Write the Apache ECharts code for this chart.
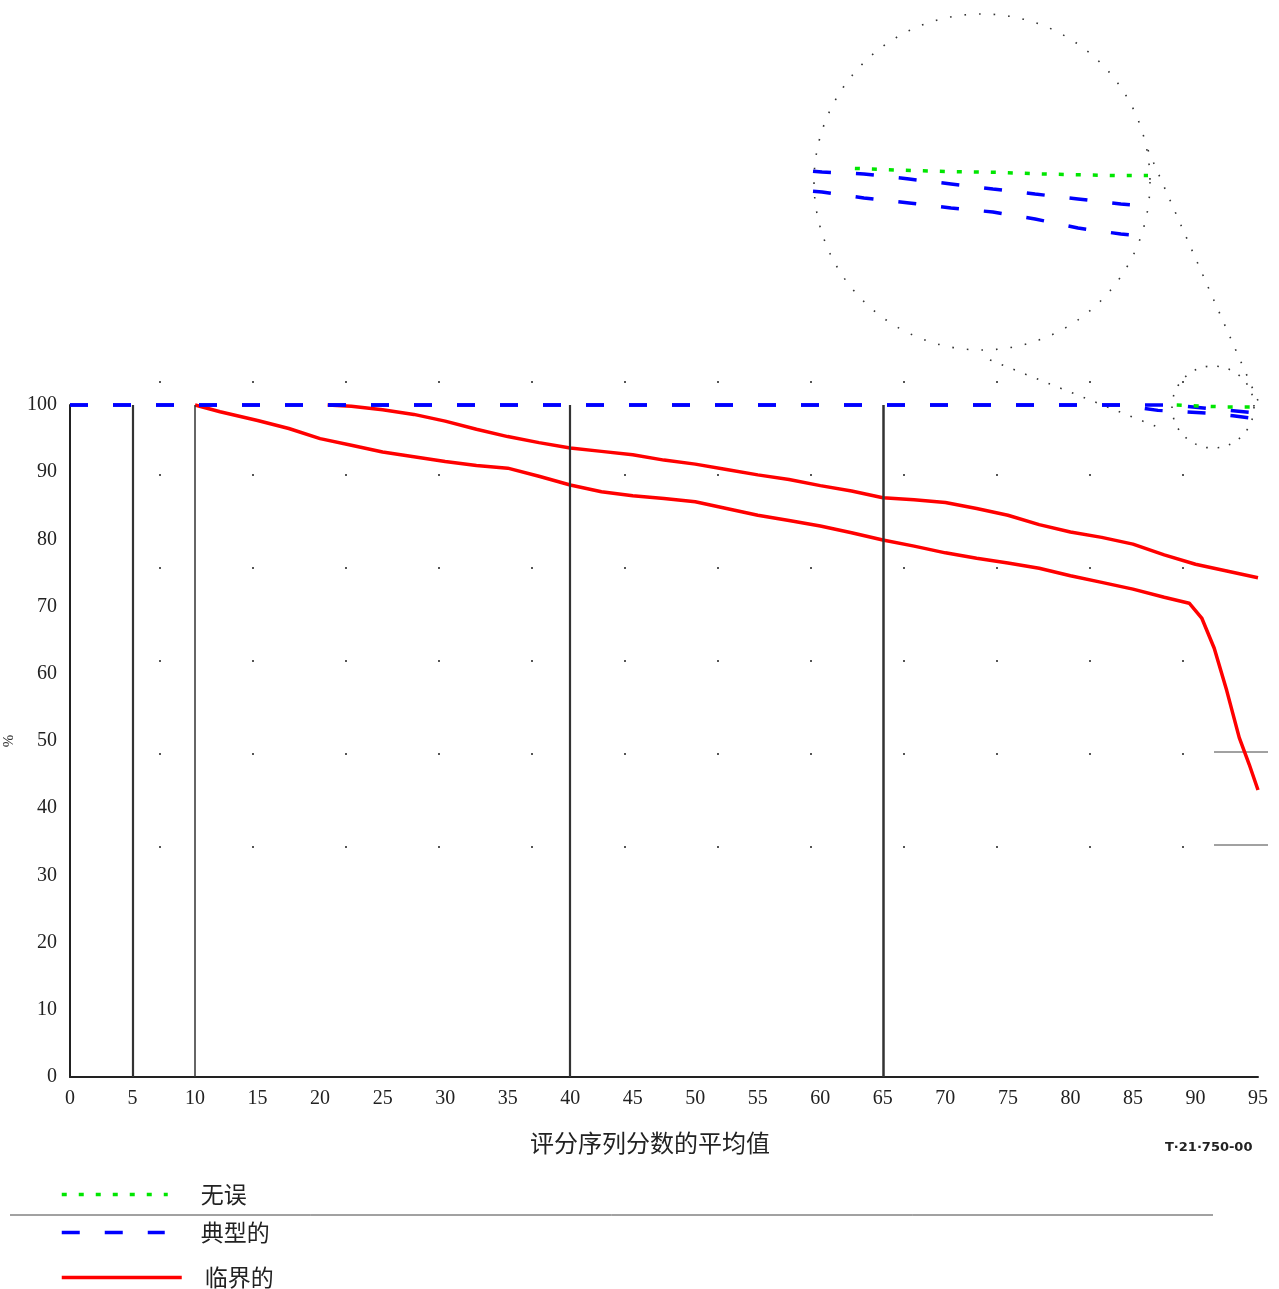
<!DOCTYPE html>
<html><head><meta charset="utf-8">
<script src="https://cdn.jsdelivr.net/npm/echarts@6/dist/echarts.min.js"></script>
<style>html,body{margin:0;padding:0;background:#fff}#c{width:1279px;height:1289px}</style>
</head><body><div id="c"></div>
<script>
// ---- data ----
const xTickMin = 0, xTickMax = 95, xTickStep = 5;
const yTickMin = 0, yTickMax = 100, yTickStep = 10;
const verticalMarks = [5, 10, 40, 65];

const seriesNames = ['无误', '典型的', '临界的'];

// 临界的 (critical) — two curves
const criticalLower = [[10,100],[12,99.0],[15,97.7],[17.5,96.5],[20,95.0],[22.5,94.0],[25,93.0],[27.5,92.3],[30,91.6],[32.5,91.0],[35,90.6],[37.5,89.4],[40,88.1],[42.5,87.1],[45,86.5],[47.5,86.1],[50,85.6],[52.5,84.6],[55,83.6],[57.5,82.8],[60,82.0],[62.5,81.0],[65,79.9],[67.5,79.0],[70,78.0],[72.5,77.2],[75,76.5],[77.5,75.7],[80,74.6],[82.5,73.6],[85,72.6],[87.5,71.4],[89.5,70.5],[90.5,68.3],[91.5,63.8],[92.5,57.5],[93.5,50.5],[94.3,46.5],[95,42.7]];
const criticalUpper = [[20.6,100],[22.5,99.8],[25,99.3],[27.5,98.6],[30,97.6],[32.5,96.4],[35,95.3],[37.5,94.4],[40,93.6],[42.5,93.1],[45,92.6],[47.5,91.8],[50,91.2],[52.5,90.4],[55,89.6],[57.5,88.9],[60,88.0],[62.5,87.2],[65,86.2],[67.5,85.9],[70,85.5],[72.5,84.6],[75,83.6],[77.5,82.2],[80,81.1],[82.5,80.3],[85,79.3],[87.5,77.7],[90,76.3],[92.5,75.3],[95,74.3]];

// 典型的 (typical) — two curves
const typicalUpper = [[0,100],[88,100],[91.5,99.4],[95,98.8]];
const typicalLower = [[0,100],[84,100],[87,99.2],[91,98.8],[93,98.4],[95,97.9]];

// 无误 (error free)
const errorFree = [[88.5,100],[91,99.8],[92.5,99.7],[95,99.7]];

// magnified inset (x 85–95)
const insetX = [85, 95];
const insetY = [98.3, 100];
const insetErrorFree = [[86.25,99.99],[87.45,99.95],[89.09,99.91],[90.58,99.89],[91.81,99.85],[94.16,99.81],[95,99.81]];
const insetTypicalUpper = [[85,99.92],[85.27,99.9],[86.52,99.85],[87.87,99.725],[89.12,99.6],[90.37,99.475],[91.63,99.35],[92.91,99.225],[94.19,99.1],[94.46,99.08]];
const insetTypicalLower = [[85,99.42],[85.27,99.4],[86.52,99.25],[87.87,99.125],[89.12,99.0],[90.37,98.9],[91.63,98.725],[92.91,98.5],[94.19,98.35],[94.46,98.33]];

const xAxisName = '评分序列分数的平均值';
const yAxisName = '%';
const figureLabel = 'T·21·750-00';

// ---- styles ----
const RED = '#ff0000', BLUE = '#0000ff', GREEN = '#00e600';
const serif = 'Liberation Serif';
const cjk = 'Noto Sans CJK SC';
const greenStyle = {color: GREEN, width: 3.5, type: [5, 12]};
const blueStyle = {color: BLUE, width: 3.5, type: [18, 25]};
const redStyle = {color: RED, width: 3.5, type: 'solid'};

function lineSeries(name, data, style, gi, z) {
  return {name, type: 'line', data, xAxisIndex: gi, yAxisIndex: gi, symbol: 'none',
    showSymbol: false, clip: false, z, silent: true, animation: false,
    itemStyle: {color: style.color}, lineStyle: style};
}
function legendFor(name, top, w, pad) {
  return {data: [name], left: 60, top, orient: 'vertical', itemWidth: w, itemHeight: 14, padding: 0,
    selectedMode: false, itemStyle: {opacity: 0}, lineStyle: {width: 3.5},
    textStyle: {fontFamily: cjk, fontSize: 23, color: '#222', padding: [0, 0, 0, pad]}};
}

const chart = echarts.init(document.getElementById('c'), null, {renderer: 'canvas'});
const redLow = lineSeries(seriesNames[2], criticalLower, redStyle, 0, 3);
redLow.markLine = {
  silent: true, symbol: 'none', label: {show: false}, animation: false,
  data: verticalMarks.map((v, i) => ({xAxis: v, lineStyle: {color: '#333', type: 'solid', width: i === 1 ? 1.5 : (i === 3 ? 2.5 : 2.2)}}))
};
const gridBase = {containLabel: false, outerBoundsMode: 'none'};

chart.setOption({
  animation: false,
  backgroundColor: '#fff',
  grid: [
    Object.assign({left: 70, top: 405, width: 1188, height: 672}, gridBase),
    Object.assign({left: 813, top: 168, width: 335, height: 68}, gridBase),
    Object.assign({left: 160, top: 381, width: 1023, height: 558}, gridBase)
  ],
  xAxis: [
    {type: 'value', gridIndex: 0, min: xTickMin, max: xTickMax, interval: xTickStep,
     axisLine: {show: true, onZero: false, lineStyle: {color: '#222', width: 2}},
     axisTick: {show: false}, splitLine: {show: false},
     axisLabel: {margin: 12, fontFamily: serif, fontSize: 20, color: '#222'}},
    {type: 'value', gridIndex: 1, min: insetX[0], max: insetX[1], show: false},
    {type: 'value', gridIndex: 2, min: 0, max: 11, interval: 1,
     axisLine: {show: false}, axisTick: {show: false}, axisLabel: {show: false},
     splitLine: {show: true, lineStyle: {color: '#555', width: 2, type: [2, 91]}}}
  ],
  yAxis: [
    {type: 'value', gridIndex: 0, min: yTickMin, max: yTickMax, interval: yTickStep,
     name: yAxisName, nameLocation: 'middle', nameGap: 46, nameRotate: 90,
     nameTextStyle: {fontFamily: serif, fontSize: 15, color: '#333'},
     axisLine: {show: true, onZero: false, lineStyle: {color: '#222', width: 2}},
     axisTick: {show: false}, splitLine: {show: false},
     axisLabel: {margin: 13, fontFamily: serif, fontSize: 20, color: '#222'}},
    {type: 'value', gridIndex: 1, min: insetY[0], max: insetY[1], show: false},
    {type: 'value', gridIndex: 2, min: 0, max: 1, show: false}
  ],
  legend: [
    legendFor(seriesNames[0], 1183, 106, 28),
    legendFor(seriesNames[1], 1221, 103, 31),
    legendFor(seriesNames[2], 1266, 120, 18)
  ],
  graphic: [
    {type: 'text', left: 530, top: 1131, silent: true,
     style: {text: xAxisName, font: '24px "Noto Sans CJK SC"', fill: '#222'}},
    {type: 'text', left: 1165, top: 1141, silent: true,
     style: {text: figureLabel, font: 'bold 13px "DejaVu Sans"', fill: '#222'}},
    {type: 'circle', silent: true, shape: {cx: 982, cy: 182, r: 168},
     style: {fill: 'none', stroke: '#333', lineWidth: 1.6, lineDash: [1.6, 13]}},
    {type: 'circle', silent: true, shape: {cx: 1213, cy: 407, r: 41},
     style: {fill: 'none', stroke: '#333', lineWidth: 1.6, lineDash: [1.6, 10]}},
    {type: 'line', silent: true, shape: {x1: 990, y1: 360, x2: 1165, y2: 430},
     style: {stroke: '#333', lineWidth: 1.6, lineDash: [1.6, 11]}},
    {type: 'line', silent: true, shape: {x1: 1148, y1: 150, x2: 1259, y2: 403},
     style: {stroke: '#333', lineWidth: 1.6, lineDash: [1.6, 12]}},
    {type: 'line', silent: true, shape: {x1: 10, y1: 1215, x2: 1213, y2: 1215},
     style: {stroke: '#444', lineWidth: 1}},
    {type: 'line', silent: true, shape: {x1: 1214, y1: 752, x2: 1268, y2: 752},
     style: {stroke: '#444', lineWidth: 1}},
    {type: 'line', silent: true, shape: {x1: 1214, y1: 845, x2: 1268, y2: 845},
     style: {stroke: '#444', lineWidth: 1}}
  ],
  series: [
    redLow,
    lineSeries(seriesNames[2], criticalUpper, redStyle, 0, 3),
    lineSeries(seriesNames[1], typicalLower, blueStyle, 0, 4),
    lineSeries(seriesNames[1], typicalUpper, blueStyle, 0, 4),
    lineSeries(seriesNames[0], errorFree, greenStyle, 0, 5),
    lineSeries(seriesNames[0], insetErrorFree, greenStyle, 1, 5),
    lineSeries(seriesNames[1], insetTypicalUpper, blueStyle, 1, 4),
    lineSeries(seriesNames[1], insetTypicalLower, blueStyle, 1, 4)
  ]
});
</script></body></html>
